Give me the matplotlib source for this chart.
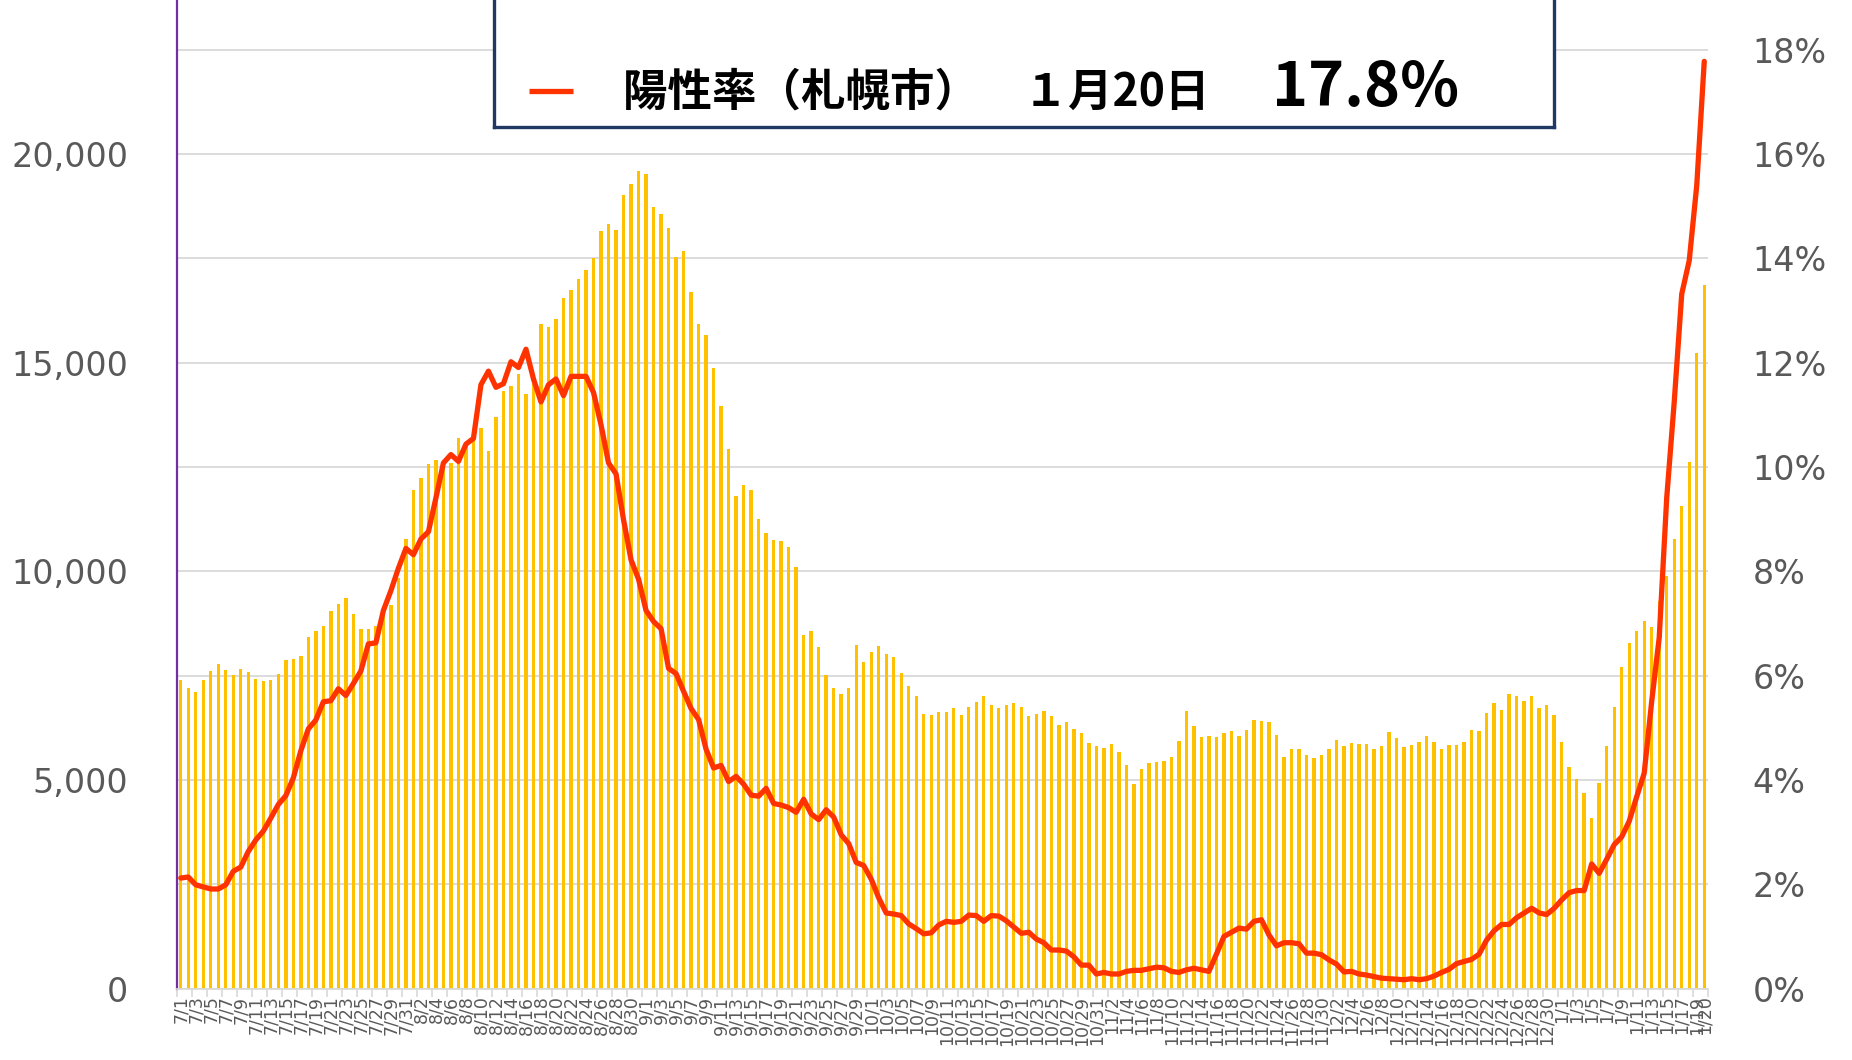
import matplotlib
matplotlib.use("Agg")
import matplotlib.pyplot as plt
import numpy as np
import pandas as pd
from matplotlib.lines import Line2D

# ---------------- data ----------------
dates = pd.date_range("2021-07-01", "2022-01-20", freq="D")
date_labels = [f"{d.month}/{d.day}" for d in dates]

cases = [
    7404, 7212, 7105, 7404, 7618, 7778, 7639, 7511, 7660, 7596,
    7425, 7382, 7404, 7543, 7874, 7895, 7981, 8419, 8579, 8686,
    9049, 9220, 9359, 8985, 8611, 8611, 8686, 9100, 9188, 9840,
    10769, 11955, 12233, 12585,
    12665, 12640, 12600, 13209, 13054, 13250, 13442, 12885, 13701, 14323,
    14452, 14724, 14245, 14500, 15929, 15864, 16058, 16550, 16744, 17016,
    17224, 17508, 18156, 18324, 18195, 19011, 19296, 19593, 19516, 18726,
    18557, 18221, 17547, 17677,
    16706, 15929, 15670, 14867, 13960, 12924, 11810, 12082, 11953, 11267,
    10917, 10749, 10723, 10580, 10114, 8482, 8560, 8197, 7524, 7200,
    7071, 7200, 8236, 7822, 8068, 8210, 8029, 7951, 7563, 7252,
    7006, 6579, 6553, 6630,
    6640, 6728, 6568, 6760, 6879, 7007, 6800, 6720, 6800, 6855,
    6743, 6528, 6592, 6656, 6544, 6320, 6392, 6216, 6120, 5889,
    5809, 5761, 5857, 5673, 5369, 4914, 5273, 5409, 5433, 5457,
    5561, 5929, 6664, 6304,
    6040, 6048, 6040, 6128, 6176, 6064, 6208, 6448, 6424, 6392,
    6080, 5545, 5745, 5745, 5609, 5529, 5609, 5745, 5961, 5817,
    5897, 5865, 5865, 5737, 5817, 6144, 6016, 5801, 5841, 5921,
    6048, 5921, 5745,
    5831, 5845, 5921, 6196, 6165, 6608, 6852, 6684, 7065, 7004,
    6882, 7020, 6730, 6791, 6562, 5921, 5311, 5021, 4700, 4090,
    4929, 5814, 6760, 7706, 8286, 8576, 8805, 8668, 9300, 9888,
    10773, 11567, 12620, 15245, 16862,
]

positivity = [
    2.12, 2.14, 1.99, 1.95, 1.91, 1.91, 1.99, 2.25, 2.33, 2.63,
    2.85, 3.02, 3.27, 3.53, 3.70, 4.04, 4.56, 4.98, 5.15, 5.50,
    5.52, 5.75, 5.62, 5.85, 6.09, 6.61, 6.63, 7.25, 7.63, 8.06,
    8.44, 8.32, 8.62, 8.76,
    9.41, 10.08, 10.24, 10.11, 10.44, 10.55, 11.58, 11.84, 11.53, 11.60,
    12.02, 11.91, 12.26, 11.69, 11.25, 11.58, 11.69, 11.37, 11.74, 11.74,
    11.74, 11.43, 10.81, 10.08, 9.87, 8.99, 8.22, 7.85, 7.25, 7.04,
    6.90, 6.14, 6.04, 5.70,
    5.37, 5.16, 4.59, 4.23, 4.28, 3.97, 4.07, 3.92, 3.71, 3.69,
    3.84, 3.55, 3.52, 3.47, 3.38, 3.63, 3.35, 3.24, 3.43, 3.29,
    2.95, 2.78, 2.42, 2.36, 2.10, 1.74, 1.45, 1.43, 1.40, 1.24,
    1.15, 1.05, 1.07, 1.22,
    1.29, 1.27, 1.29, 1.41, 1.40, 1.29, 1.40, 1.39, 1.30, 1.18,
    1.06, 1.08, 0.95, 0.88, 0.74, 0.74, 0.72, 0.61, 0.45, 0.45,
    0.28, 0.31, 0.28, 0.28, 0.33, 0.35, 0.35, 0.38, 0.41, 0.40,
    0.33, 0.31, 0.36, 0.39,
    0.36, 0.33, 0.66, 1.00, 1.08, 1.16, 1.14, 1.29, 1.32, 1.03,
    0.82, 0.88, 0.88, 0.86, 0.68, 0.68, 0.65, 0.55, 0.47, 0.32,
    0.33, 0.28, 0.26, 0.23, 0.20, 0.19, 0.18, 0.17, 0.19, 0.17,
    0.19, 0.24, 0.31,
    0.37, 0.48, 0.52, 0.56, 0.66, 0.93, 1.11, 1.23, 1.23, 1.36,
    1.45, 1.54, 1.45, 1.42, 1.54, 1.70, 1.84, 1.88, 1.88, 2.39,
    2.21, 2.48, 2.76, 2.91, 3.21, 3.68, 4.13, 5.51, 6.73, 9.41,
    11.25, 13.32, 13.96, 15.40, 17.78,
]

left_ticks = list(range(0, 22501, 2500))
right_ticks = list(range(0, 19, 2))
legend_label = "陽性率（札幌市）　１月20日"
legend_value = "17.8%"

# ---------------- figure ----------------
W, H = 1852, 1060
fig = plt.figure(figsize=(W / 100, H / 100), dpi=100)
fig.patch.set_facecolor("white")

ax_l, ax_r, ax_b, ax_t = 177, 1708, 988.6, 0
ax = fig.add_axes([ax_l / W, 1 - ax_b / H, (ax_r - ax_l) / W, (ax_b - ax_t) / H])

n = len(cases)
x = np.arange(n)
ymax_left = 23696
ax.bar(x, cases, width=0.45, color="#FFC000", zorder=2)
ax.set_xlim(-0.5, n - 0.5)
ax.set_ylim(0, ymax_left)

ax.set_yticks(left_ticks)
ax.set_yticklabels([f"{v:,}" if v % 5000 == 0 else "" for v in left_ticks])
ax.yaxis.grid(True, color="#D9D9D9", lw=1.3, zorder=0)
ax.set_axisbelow(True)
ax.tick_params(axis="y", length=0, pad=35, labelsize=24, labelcolor="#595959")

label_idx = [i for i in range(n) if i % 2 == 0] + [n - 1]
ax.set_xticks(label_idx)
ax.set_xticklabels([date_labels[i] for i in label_idx], rotation=90)
ax.tick_params(axis="x", length=0, pad=5, labelsize=12.5, labelcolor="#595959")
ax.set_xticks([i - 0.5 for i in range(0, n + 1, 2)], minor=True)
ax.tick_params(axis="x", which="minor", length=6, width=1.2, color="#D9D9D9")

for s in ["top", "right"]:
    ax.spines[s].set_visible(False)
ax.spines["left"].set_color("#7030A0")
ax.spines["left"].set_linewidth(1.6)
ax.spines["bottom"].set_color("#D9D9D9")
ax.spines["bottom"].set_linewidth(1.3)

ax2 = ax.twinx()
ax2.plot(x, positivity, color="#FF3300", lw=3.8, solid_joinstyle="round",
         solid_capstyle="round", zorder=5)
ax2.set_ylim(0, ymax_left / 12500 * 10)
ax2.set_yticks(right_ticks)
ax2.set_yticklabels([f"{v}%" for v in right_ticks])
ax2.tick_params(axis="y", length=0, pad=32, labelsize=24, labelcolor="#595959")
for s in ax2.spines.values():
    s.set_visible(False)

# ---------------- legend box ----------------
lx0, lx1, ly1 = 494, 1554, 127.5
lg = fig.add_axes([lx0 / W, 1 - ly1 / H, (lx1 - lx0) / W, ly1 / H + 0.02])
lg.set_xticks([])
lg.set_yticks([])
lg.set_facecolor("white")
for s in lg.spines.values():
    s.set_color("#1F3864")
    s.set_linewidth(2.4)

fig.add_artist(Line2D([529 / W, 573 / W], [1 - 91 / H, 1 - 91 / H],
                      color="#FF3300", lw=3.8, solid_capstyle="butt"))
fig.text(623 / W, 1 - 93 / H, legend_label, fontsize=32, fontweight="bold",
         family=["Noto Sans CJK JP", "DejaVu Sans"], va="center", ha="left",
         color="black")
fig.text(1272 / W, 1 - 88 / H, legend_value, fontsize=44, fontweight="bold",
         family=["Noto Sans CJK JP", "DejaVu Sans"], va="center", ha="left",
         color="black")

fig.savefig("out.png", dpi=100)
